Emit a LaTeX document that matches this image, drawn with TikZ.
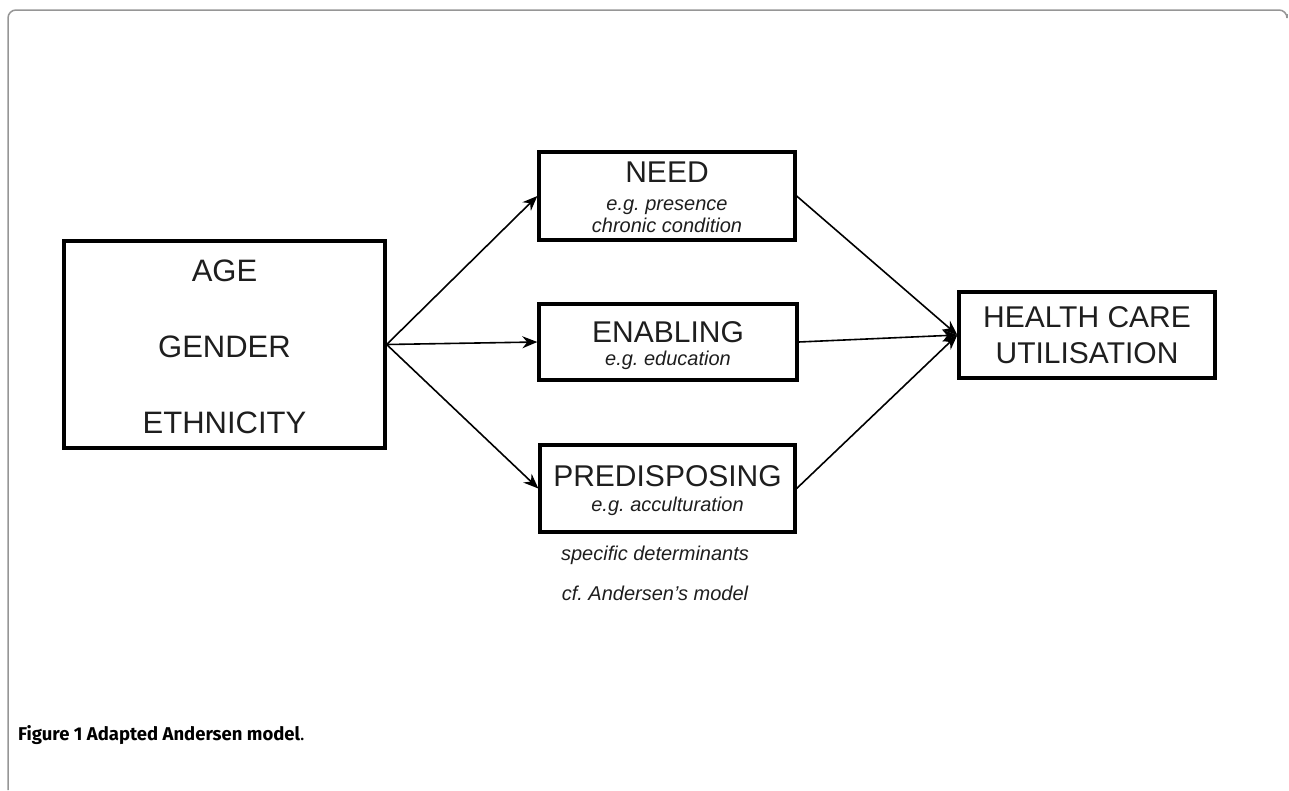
\documentclass[tikz,border=0pt]{standalone}
\usepackage{fontspec}
\setmainfont{Liberation Sans}
\newfontfamily\capfont{Fira Sans}
\usetikzlibrary{positioning, arrows.meta}
\definecolor{framegray}{RGB}{150,150,150}
\definecolor{inkgray}{RGB}{30,30,30}
\newcommand{\egfont}{\fontsize{20}{22}\selectfont\itshape}
\newcommand{\topstrut}[1]{\rule{0pt}{#1}}
\frenchspacing

\begin{document}
\begin{tikzpicture}[x=1pt, y=-1pt,
    box/.style={draw, line width=3.3pt, inner sep=0pt, align=center, text=inkgray,
      font=\fontsize{30}{22}\selectfont},
    note/.style={anchor=base, text=inkgray, font=\fontsize{20}{22}\selectfont\itshape},
    ->/.style={-{Stealth[length=15pt, width=12pt]}, line width=1.6pt}]
  \useasboundingbox (0,0) rectangle (1289,790);
  % frame
  \draw[framegray, line width=1.5pt, rounded corners=8pt]
    (8,790) -- (8,10) -- (1287,10) -- (1287,14);
  % boxes
  \node[box, minimum width=321, minimum height=207, font=\fontsize{31}{76}\selectfont]
    (demo) at (224.5,344.5) {\topstrut{27pt}AGE\\GENDER\\ETHNICITY};
  \node[box, minimum width=256, minimum height=88] (need) at (667,196)
    {\topstrut{24pt}NEED\\[6pt]\egfont e.g. presence\\\egfont chronic condition};
  \node[box, minimum width=258, minimum height=76] (enab) at (668,342)
    {\topstrut{29pt}ENABLING\\[1pt]\egfont e.g. education};
  \node[box, minimum width=255, minimum height=87] (predis) at (667.5,488.5)
    {\topstrut{26pt}PREDISPOSING\\[3pt]\egfont e.g. acculturation};
  \node[box, minimum width=256, minimum height=86, font=\fontsize{30}{36}\selectfont]
    (hcu) at (1087,335) {HEALTH CARE\\UTILISATION};
  % arrows
  \draw [->] (demo.east) to (need.west);
  \draw [->] (demo.east) to (enab.west);
  \draw [->] (demo.east) to (predis.west);
  \draw [->] (need.east) to (hcu.west);
  \draw [->] (enab.east) to (hcu.west);
  \draw [->] (predis.east) to (hcu.west);
  % notes
  \node[note] (spec) at (655,560) {specific determinants};
  \node[note] (cfmod) at (655,600) {cf. Andersen's model};
  \node[anchor=base west, inner sep=0pt, font=\capfont\fontsize{18.5}{20}\selectfont\bfseries]
    (caption) at (18,740) {Figure 1 Adapted Andersen model{\mdseries .}};
\end{tikzpicture}
\end{document}
